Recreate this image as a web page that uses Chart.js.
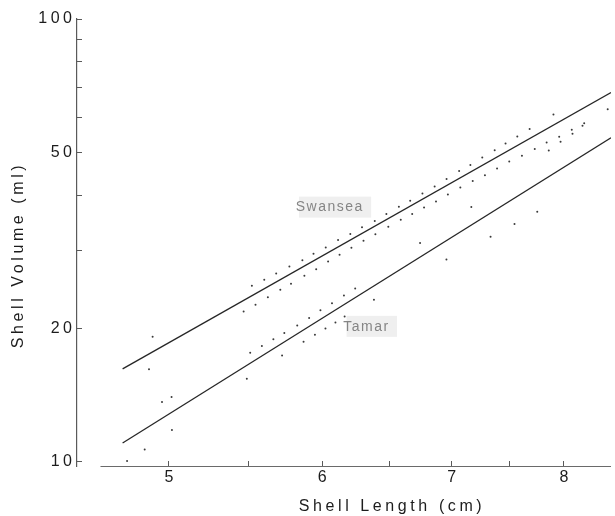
<!DOCTYPE html>
<html>
<head>
<meta charset="utf-8">
<script src="https://cdn.jsdelivr.net/npm/chart.js@4.4.1/dist/chart.umd.min.js"></script>
<style>
html,body{margin:0;padding:0;background:#ffffff;}
#wrap{width:615px;height:516px;position:relative;}
</style>
</head>
<body>
<div id="wrap"><canvas id="c" width="615" height="516"></canvas></div>
<script>
// ---- data (log-log axes) ----
const swanseaLength = [4.904,4.883,5.519,5.601,5.681,5.771,5.861,5.939,6.026,6.115,6.205,6.292,6.388,6.477,6.574,6.663,6.761,6.860,6.958,7.063,7.158,7.260,7.368,7.464,7.569,7.681,7.902,
  5.465,5.543,5.625,5.709,5.782,5.875,5.958,6.043,6.126,6.213,6.303,6.393,6.492,6.589,6.679,6.774,6.871,6.969,7.073,7.178,7.283,7.389,7.497,7.611,7.728,7.838,7.858,7.956,7.969,8.076,8.083,8.180,8.196,8.429];
const swanseaVolume = [19.17,16.19,24.97,25.76,26.62,27.61,28.51,29.49,30.48,31.67,32.69,33.85,34.98,36.26,37.66,38.86,40.36,41.86,43.51,45.36,46.80,48.69,50.54,52.37,54.28,56.44,60.85,
  21.84,22.62,23.54,24.45,25.23,26.30,27.23,28.32,29.34,30.43,31.56,32.67,33.94,35.20,36.26,37.52,38.72,40.15,41.64,43.06,44.38,45.97,47.66,49.12,50.89,52.61,50.49,54.23,52.83,56.23,55.07,57.41,58.16,62.52];
const tamarLength = [4.959,5.016,5.018,4.858,4.757,5.508,5.585,5.662,5.736,5.825,5.908,5.988,6.071,6.158,6.241,5.486,5.721,5.869,5.949,6.024,6.096,6.163,6.382,6.742,6.957,7.166,7.332,7.544,7.751];
const tamarVolume = [13.65,14.01,11.80,10.66,10.04,17.62,18.25,18.92,19.55,20.31,21.12,22.00,22.82,23.73,24.64,15.41,17.39,18.68,19.35,19.99,20.63,21.28,23.22,31.20,28.63,37.62,32.22,34.42,36.69];

const swanseaLineLength = [4.732, 8.462];
const swanseaLineVolume = [16.21, 68.2];
const tamarLineLength = [4.732, 8.462];
const tamarLineVolume = [11.03, 53.9];

const seriesNames = ['Swansea', 'Tamar'];
const seriesLabelLength = [6.05, 6.32];
const seriesLabelVolume = [37.5, 20.17];

const xTickValues = [5, 5.5, 6, 6.5, 7, 7.5, 8];
const xTickLabels = ['5', '', '6', '', '7', '', '8'];
const yTickValues = [10, 20, 30, 40, 50, 60, 70, 80, 90, 100];
const yTickLabels = ['10', '20', '', '', '50', '', '', '', '', '100'];

const xTitle = 'Shell Length (cm)';
const yTitle = 'Shell Volume (ml)';

const xRange = [4.482, 8.462];
const yRange = [9.784, 100];
const xAxisLineStart = 4.609;

// ---- styling ----
const FONT = '"Liberation Sans", Arial, Helvetica, sans-serif';
const INK = '#1c1c1c';
const AXIS = '#5a5a5a';

const zip = (xs, ys) => xs.map((x, i) => ({x: x, y: ys[i]}));

const figurePlugin = {
  id: 'figure',
  beforeDraw(chart) {
    chart.ctx.letterSpacing = '3.5px';
  },
  beforeDatasetsDraw(chart) {
    chart.ctx.letterSpacing = '0px';
    // x axis line (starts a bit right of the y axis, as in the figure)
    const ctx = chart.ctx, xs = chart.scales.x, ca = chart.chartArea;
    ctx.save();
    ctx.strokeStyle = '#6a6a6a';
    ctx.lineWidth = 1.2;
    ctx.beginPath();
    ctx.moveTo(xs.getPixelForValue(xAxisLineStart), ca.bottom + 0.5);
    ctx.lineTo(xs.right, ca.bottom + 0.5);
    ctx.stroke();
    ctx.restore();
  },
  afterDraw(chart) {
    const ctx = chart.ctx, xs = chart.scales.x, ys = chart.scales.y;
    ctx.save();
    // series labels with faint grey boxes
    ctx.font = '14px ' + FONT;
    ctx.letterSpacing = '1.5px';
    ctx.textBaseline = 'middle';
    ctx.textAlign = 'center';
    seriesNames.forEach((name, i) => {
      const px = xs.getPixelForValue(seriesLabelLength[i]);
      const py = ys.getPixelForValue(seriesLabelVolume[i]);
      const w = ctx.measureText(name).width;
      ctx.fillStyle = '#efefef';
      ctx.fillRect(px - w / 2 + 4, py - 11, w + 4, 21);
      ctx.fillStyle = '#858585';
      ctx.fillText(name, px + 0.75, py);
    });
    // axis titles
    ctx.font = '16px ' + FONT;
    ctx.letterSpacing = '3.6px';
    ctx.fillStyle = INK;
    ctx.textAlign = 'center';
    ctx.textBaseline = 'alphabetic';
    ctx.fillText(xTitle, 392, 511);
    ctx.translate(23, 255);
    ctx.rotate(-Math.PI / 2);
    ctx.fillText(yTitle, 0, 0);
    ctx.restore();
  }
};

new Chart(document.getElementById('c'), {
  type: 'scatter',
  data: {
    datasets: [
      {label: 'Swansea line', data: zip(swanseaLineLength, swanseaLineVolume), showLine: true,
       borderColor: '#262626', borderWidth: 1.3, pointRadius: 0, fill: false},
      {label: 'Tamar line', data: zip(tamarLineLength, tamarLineVolume), showLine: true,
       borderColor: '#262626', borderWidth: 1.3, pointRadius: 0, fill: false},
      {label: 'Swansea', data: zip(swanseaLength, swanseaVolume),
       pointRadius: 1, pointBorderWidth: 0, pointBackgroundColor: '#3a3a3a'},
      {label: 'Tamar', data: zip(tamarLength, tamarVolume),
       pointRadius: 1, pointBorderWidth: 0, pointBackgroundColor: '#3a3a3a'}
    ]
  },
  options: {
    responsive: false,
    animation: false,
    events: [],
    layout: {padding: {top: 19, right: 0, bottom: 0, left: 0}},
    plugins: {legend: {display: false}, tooltip: {enabled: false}, title: {display: false}},
    scales: {
      x: {
        type: 'logarithmic',
        position: 'bottom',
        min: xRange[0],
        max: xRange[1],
        bounds: 'data',
        afterBuildTicks: (axis) => { axis.ticks = xTickValues.map(v => ({value: v})); },
        afterFit: (axis) => { axis.height = 50; },
        border: {display: false},
        grid: {drawOnChartArea: false, drawTicks: true, tickLength: -5, color: AXIS, lineWidth: 1},
        ticks: {
          z: 1,
          autoSkip: false, maxRotation: 0, minRotation: 0, padding: 7,
          color: INK, font: {family: FONT, size: 16},
          callback: (v, i) => xTickLabels[i]
        },
        title: {display: false}
      },
      y: {
        type: 'logarithmic',
        position: 'left',
        min: yRange[0],
        max: yRange[1],
        bounds: 'data',
        afterBuildTicks: (axis) => { axis.ticks = yTickValues.map(v => ({value: v})); },
        afterFit: (axis) => { axis.width = 77; },
        border: {display: true, color: AXIS, width: 1.2},
        grid: {drawOnChartArea: false, drawTicks: true, tickLength: -5, color: AXIS, lineWidth: 1},
        ticks: {
          autoSkip: false, padding: 6.5,
          color: INK, font: {family: FONT, size: 16},
          callback: (v, i) => yTickLabels[i]
        },
        title: {display: false}
      }
    }
  },
  plugins: [figurePlugin]
});
</script>
</body>
</html>
